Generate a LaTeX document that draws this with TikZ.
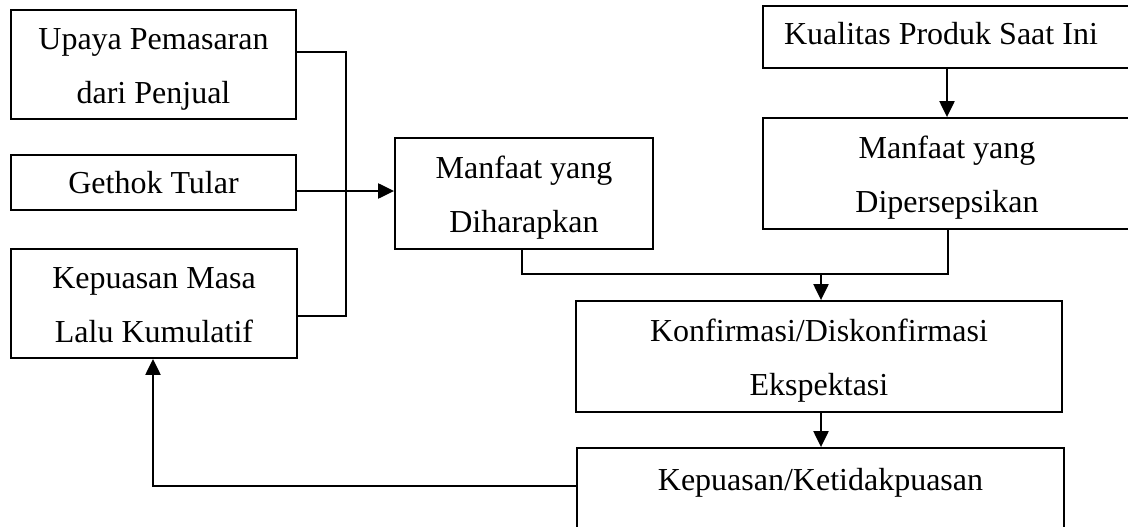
\documentclass[tikz,border=0pt]{standalone}
\usepackage{fontspec}
\setmainfont{Liberation Serif}
\usetikzlibrary{arrows.meta}
\newcommand\topst{\rule{0pt}{30.5pt}}
\newcommand\botst{\rule[-7pt]{0pt}{7pt}}
\begin{document}
\begin{tikzpicture}[x=1pt,y=-1pt,
  box/.style={draw,line width=1.8pt,inner sep=0pt,align=center,font=\fontsize{32}{54.5}\selectfont},
  ln/.style={line width=1.8pt},
  arr/.style={line width=2.2pt,-{Triangle[length=16pt,width=15pt]}}]
\useasboundingbox (0,0) rectangle (1128,527);
\clip (0,0) rectangle (1128,527);
% boxes
\node[box,minimum width=285pt,minimum height=109pt] (b1) at (153.5,64.5) {\topst Upaya Pemasaran\\dari Penjual\botst};
\node[box,minimum width=285pt,minimum height=55pt] (b2) at (153.5,182.5) {Gethok Tular};
\node[box,minimum width=286pt,minimum height=109pt] (b3) at (154,303.5) {\topst Kepuasan Masa\\Lalu Kumulatif\botst};
\node[box,minimum width=258pt,minimum height=111pt] (dh) at (524,193.5) {\topst Manfaat yang\\Diharapkan\botst};
\node[box,minimum width=368pt,minimum height=62pt,text height=21.9pt,text depth=6pt] (kp) at (947,37) {Kualitas Produk Saat Ini\hspace*{12pt}};
\node[box,minimum width=368pt,minimum height=111pt] (dp) at (947,173.5) {\topst Manfaat yang\\Dipersepsikan\botst};
\node[box,minimum width=486pt,minimum height=111pt] (kf) at (819,356.5) {\topst Konfirmasi/Diskonfirmasi\\Ekspektasi\botst};
\node[box,minimum width=487pt,minimum height=110pt,text height=21.5pt,text depth=47.5pt] (kk) at (820.5,503) {Kepuasan/Ketidakpuasan};
% connectors
\coordinate (c1) at (346,52);
\coordinate (c3) at (346,316);
\coordinate (g) at (346,191);
\draw[ln] (b1.east |- c1) -- (c1) -- (c3) -- (b3.east |- c3);
\draw[arr] (b2.east |- g) -- (dh.west |- g);
\coordinate (m1) at (522,274);
\coordinate (m2) at (948,274);
\coordinate (m3) at (821,274);
\draw[ln] (dh.south -| m1) -- (m1) -- (m2) -- (dp.south -| m2);
\draw[arr] (m3) -- (kf.north -| m3);
\draw[arr] (kp.south) -- (dp.north);
\draw[arr] (kf.south -| m3) -- (kk.north -| m3);
\coordinate (f) at (153,486);
\draw[arr] (kk.west |- f) -- (f) -- (b3.south -| f);
\end{tikzpicture}
\end{document}
